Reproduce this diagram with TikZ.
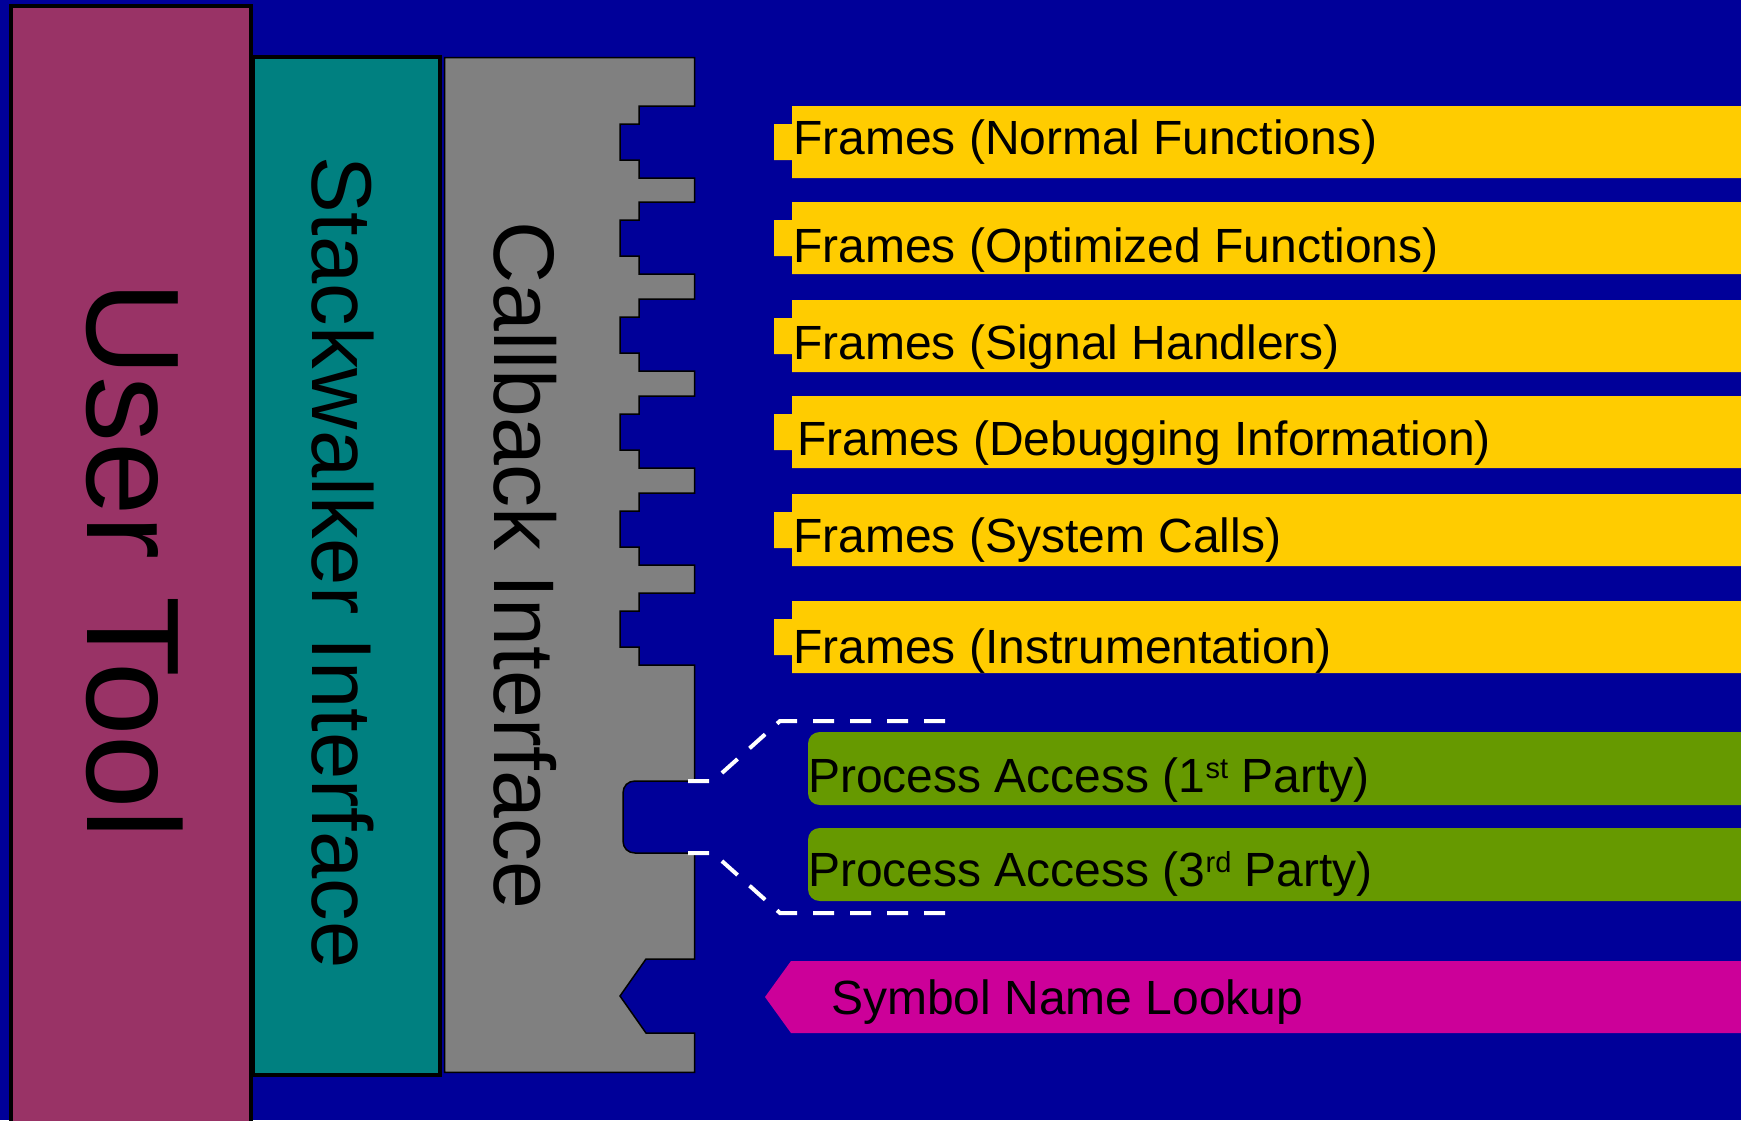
\documentclass[tikz,border=0pt]{standalone}
\usepackage{fontspec}
\setmainfont{Liberation Sans}
\definecolor{bgblue}{HTML}{000099}
\definecolor{barYellow}{HTML}{FFCC00}
\definecolor{barGreen}{HTML}{669900}
\definecolor{barMag}{HTML}{CC0099}
\definecolor{cbGray}{HTML}{808080}
\definecolor{swTeal}{HTML}{008080}
\definecolor{utPlum}{HTML}{993366}
\begin{document}
\begin{tikzpicture}[x=1pt,y=-1pt,
  txt/.style={anchor=base west,inner sep=0pt,font=\fontsize{48}{58}\selectfont},
  bigtxt/.style={anchor=base west,inner sep=0pt,rotate=-90},
  dashline/.style={draw=white,line width=4pt,dash pattern=on 21pt off 16pt}]
\useasboundingbox (0,0) rectangle (1741,1120);
\fill[bgblue] (0,0) rectangle (1741,1120);
% User tool and stackwalker
\draw[line width=3.5pt, fill=utPlum] (11,6) rectangle (251,1135);
\draw[line width=3.5pt, fill=swTeal] (253,57) rectangle (440,1075);
% Callback interface with notches
\draw[line width=1.5pt, fill=cbGray]
  (444.7,57.7) -- (694.5,57.7)
  -- (694.5,106) -- (639,106) -- (639,124) -- (620,124) -- (620,160) -- (639,160) -- (639,178) -- (694.5,178)
  -- (694.5,202) -- (639,202) -- (639,220) -- (620,220) -- (620,256) -- (639,256) -- (639,274) -- (694.5,274)
  -- (694.5,299) -- (639,299) -- (639,317) -- (620,317) -- (620,353) -- (639,353) -- (639,371) -- (694.5,371)
  -- (694.5,396) -- (639,396) -- (639,414) -- (620,414) -- (620,450) -- (639,450) -- (639,468) -- (694.5,468)
  -- (694.5,493) -- (639,493) -- (639,511) -- (620,511) -- (620,547) -- (639,547) -- (639,565) -- (694.5,565)
  -- (694.5,593) -- (639,593) -- (639,611) -- (620,611) -- (620,647) -- (639,647) -- (639,665) -- (694.5,665)
  -- (694.5,781) -- (635,781) .. controls (628,781) and (623,786) .. (623,793)
  -- (623,841) .. controls (623,848) and (628,853) .. (635,853) -- (694.5,853)
  -- (694.5,959) -- (646,959) -- (620,996) -- (646,1033) -- (694.5,1033)
  -- (694.5,1072.3) -- (444.7,1072.3) -- cycle;
% Frame bars
\foreach \t in {106,202,300,396,494,601}{
  \fill[barYellow] (1745,\t) -- (792,\t) -- ++(0,18) -- ++(-18,0) -- ++(0,36) -- ++(18,0) -- ++(0,18) -- (1745,{\t+72}) -- cycle;
}
% Process access bars
\fill[barGreen] (1745,732) -- (820,732) .. controls (813,732) and (808,737) .. (808,744)
  -- (808,793) .. controls (808,800) and (813,805) .. (820,805) -- (1745,805) -- cycle;
\fill[barGreen] (1745,828) -- (820,828) .. controls (813,828) and (808,833) .. (808,840)
  -- (808,889) .. controls (808,896) and (813,901) .. (820,901) -- (1745,901) -- cycle;
% Symbol lookup bar
\fill[barMag] (765,997) -- (791,961) -- (1745,961) -- (1745,1033) -- (791,1033) -- cycle;
% Dashed connectors
\coordinate (d1a) at (688,781);
\coordinate (d1b) at (713,781);
\coordinate (d1c) at (780,721);
\coordinate (d1d) at (948,721);
\coordinate (d2a) at (688,853);
\coordinate (d2b) at (713,853);
\coordinate (d2c) at (780,913);
\coordinate (d2d) at (948,913);
\draw[dashline] (d1a) -- (d1b) -- (d1c) -- (d1d);
\draw[dashline] (d2a) -- (d2b) -- (d2c) -- (d2d);
% Texts
\node[bigtxt, font=\fontsize{132}{150}\selectfont] (ut) at (87,281) {User Tool};
\node[bigtxt, font=\fontsize{85}{100}\selectfont] (sw) at (312,156) {Stackwalker Interface};
\node[bigtxt, font=\fontsize{86}{100}\selectfont] (cb) at (494,221) {Callback Interface};
\node[txt] (f1) at (793,154) {Frames (Normal Functions)};
\node[txt] (f2) at (793,262) {Frames (Optimized Functions)};
\node[txt] (f3) at (793,359) {Frames (Signal Handlers)};
\node[txt] (f4) at (797,455) {Frames (Debugging Information)};
\node[txt] (f5) at (793,552) {Frames (System Calls)};
\node[txt] (f6) at (793,663) {Frames (Instrumentation)};
\node[txt] (p1) at (808,792) {Process Access (1\raisebox{14pt}{\fontsize{29}{30}\selectfont st} Party)};
\node[txt] (p3) at (808,886) {Process Access (3\raisebox{14pt}{\fontsize{29}{30}\selectfont rd} Party)};
\node[txt] (sym) at (831,1014) {Symbol Name Lookup};
\end{tikzpicture}
\end{document}
